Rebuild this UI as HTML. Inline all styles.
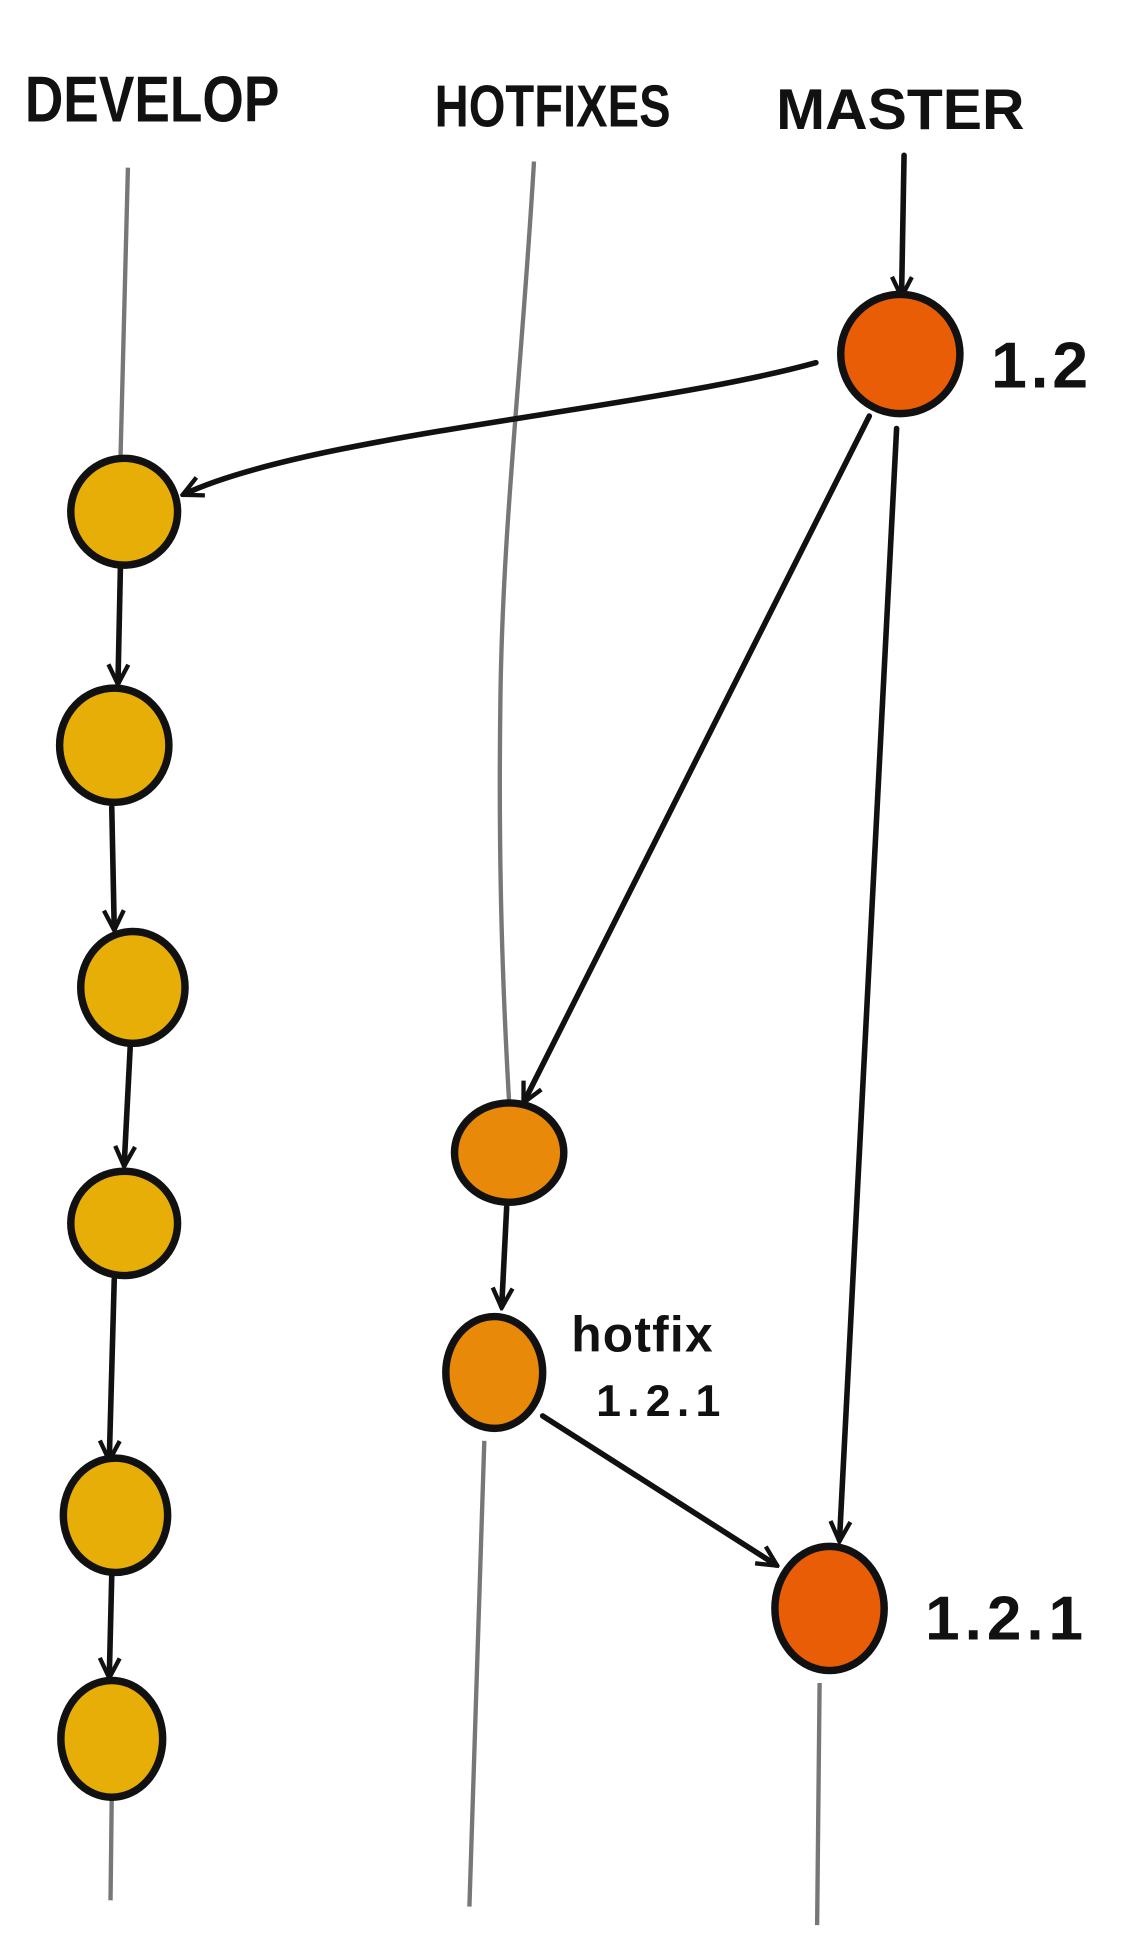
<!DOCTYPE html>
<html><head><meta charset="utf-8"><style>
html,body{margin:0;padding:0;background:#fff;width:1140px;height:1950px;overflow:hidden}
svg{display:block}
text{font-family:"Liberation Sans",sans-serif;fill:#111}
</style></head><body>
<svg width="1140" height="1950" viewBox="0 0 918 1570" preserveAspectRatio="none">
<defs>
<marker id="a" viewBox="0 0 20 20" refX="17" refY="10" markerWidth="20" markerHeight="20" markerUnits="userSpaceOnUse" orient="auto">
<path d="M2,2 L18,10 L2,18" fill="none" stroke="#111" stroke-width="3.5"/>
</marker>
</defs>
<text x="20" y="98" font-size="52" font-weight="bold" textLength="205" lengthAdjust="spacingAndGlyphs">DEVELOP</text>
<text x="350" y="102" font-size="48" font-weight="bold" textLength="190" lengthAdjust="spacingAndGlyphs">HOTFIXES</text>
<text x="625" y="104" font-size="46" font-weight="bold" textLength="200" lengthAdjust="spacingAndGlyphs">MASTER</text>
<g stroke="#777" stroke-width="3.5" fill="none">
<path d="M103,135 L97,370"/>
<path d="M430,130 C420,300 405,420 403,560 C401,700 405,800 410,888"/>
<path d="M90,1445 L89,1530"/>
<path d="M390,1160 L378,1535"/>
<path d="M660,1355 L658,1550"/>
</g>
<g stroke="#111" stroke-width="4.5" fill="none" marker-end="url(#a)" stroke-linecap="round">
<path d="M728,125 L726,238"/>
<path d="M657,292 C520,330 250,350 148,398"/>
<path d="M700,335 L422,887"/>
<path d="M722,345 L676,1240"/>
<path d="M97,455 L95,550"/>
<path d="M90,650 L92,748"/>
<path d="M105,840 L100,938"/>
<path d="M92,1030 L88,1175"/>
<path d="M90,1268 L88,1350"/>
<path d="M408,972 L404,1052"/>
<path d="M437,1140 L625,1260"/>
</g>
<g stroke="#111" stroke-width="6">
<ellipse cx="100" cy="412" rx="43" ry="43" fill="#E7AE07"/>
<ellipse cx="92" cy="600" rx="44" ry="46" fill="#E7AE07"/>
<ellipse cx="107" cy="795" rx="42" ry="45" fill="#E7AE07"/>
<ellipse cx="100" cy="985" rx="43" ry="42" fill="#E7AE07"/>
<ellipse cx="93" cy="1220" rx="42" ry="46" fill="#E7AE07"/>
<ellipse cx="90" cy="1400" rx="41" ry="47" fill="#E7AE07"/>
<ellipse cx="410" cy="928" rx="44" ry="40" fill="#E8890A"/>
<ellipse cx="398" cy="1105" rx="39" ry="45" fill="#E8890A"/>
<ellipse cx="725" cy="285" rx="48" ry="48" fill="#E85D05"/>
<ellipse cx="668" cy="1295" rx="44" ry="50" fill="#E85D05"/>
</g>
<text x="798" y="312" font-size="52" font-weight="bold" letter-spacing="3">1.2</text>
<text x="745" y="1320" font-size="50" font-weight="bold" letter-spacing="4">1.2.1</text>
<text x="460" y="1088" font-size="40" font-weight="bold" letter-spacing="1">hotfix</text>
<text x="480" y="1140" font-size="36" font-weight="bold" letter-spacing="5">1.2.1</text>
</svg>
</body></html>
